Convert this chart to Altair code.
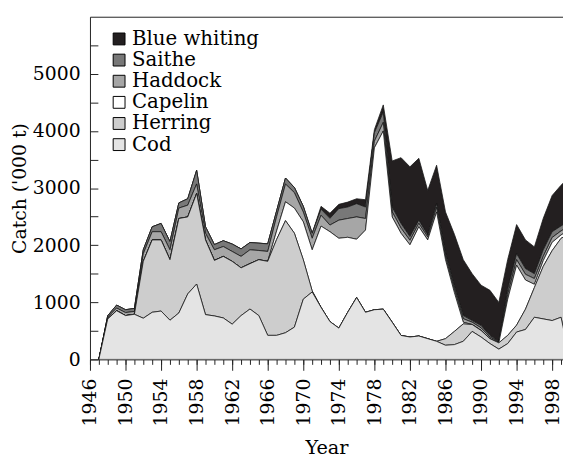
import altair as alt
import pandas as pd

years = list(range(1947, 2001))

cod = [0, 709, 853, 767, 790, 721, 825, 847, 686, 813,
       1147, 1320, 784, 761, 726, 617, 767, 882, 767, 421,
       421, 467, 565, 1055, 1181, 911, 662, 548, 825, 1084,
       825, 870, 880, 652, 420, 392, 410, 363, 317, 248,
       259, 317, 490, 392, 277, 180, 277, 479, 524, 738,
       709, 680, 738, 0]

herring = [0, 0, 0, 0, 0, 996, 1267, 1245, 1060, 1654,
           1348, 1585, 1308, 973, 1078, 1100, 836, 795, 979, 1296,
           1679, 1963, 1645, 691, 19, 0, 0, 0, 0, 0,
           0, 0, 0, 0, 0, 0, 0, 0, 0, 115,
           231, 305, 121, 115, 86, 110, 144, 121, 356, 519,
           921, 1225, 1382, 2210]

capelin = [0, 0, 0, 0, 0, 0, 0, 0, 0, 0,
           0, 0, 0, 0, 0, 0, 0, 0, 0, 0,
           150, 330, 440, 663, 719, 1423, 1574, 1573, 1313, 1020,
           1440, 2835, 3120, 1843, 1788, 1614, 1913, 1729, 2265, 1383,
           680, 30, 0, 0, 0, 0, 634, 1050, 510, 58,
           100, 145, 59, 60]

haddock = [0, 31, 47, 53, 50, 133, 144, 144, 173, 183,
           205, 167, 116, 185, 173, 173, 201, 242, 161, 173,
           250, 310, 270, 171, 202, 190, 116, 317, 329, 391,
           202, 116, 150, 90, 90, 80, 60, 50, 80, 60,
           60, 60, 40, 45, 30, 10, 85, 96, 100, 100,
           74, 85, 71, 70]

saithe = [0, 26, 51, 50, 53, 69, 86, 145, 144, 90,
          113, 238, 114, 91, 101, 130, 131, 127, 128, 133,
          100, 106, 90, 100, 87, 106, 118, 202, 201, 232,
          201, 149, 180, 83, 83, 64, 55, 37, 65, 56,
          55, 55, 29, 41, 28, 8, 88, 104, 100, 85,
          115, 101, 87, 90]

blue_whiting = [0, 0, 0, 0, 0, 0, 0, 0, 0, 0,
                0, 0, 0, 0, 0, 0, 0, 0, 0, 0,
                0, 0, 0, 0, 0, 50, 90, 75, 86, 86,
                128, 53, 126, 807, 1151, 1222, 1083, 778, 673, 720,
                905, 979, 820, 707, 789, 690, 522, 510, 502, 470,
                551, 634, 713, 770]

species = ["Blue whiting", "Saithe", "Haddock", "Capelin", "Herring", "Cod"]
colors = ["#231f20", "#787878", "#a6a6a6", "#ffffff", "#cdcdcd", "#e4e4e4"]
series = [blue_whiting, saithe, haddock, capelin, herring, cod]

x_ticks_major = list(range(1946, 2000, 4))
x_ticks_minor = list(range(1946, 2000))
y_labels = [0, 1000, 2000, 3000, 4000, 5000]
y_ticks = list(range(0, 5501, 500))

rows = []
for rank_from_top, (name, vals) in enumerate(zip(species, series)):
    for yr, v in zip(years, vals):
        rows.append({"year": yr, "catch": v, "species": name,
                     "rank": len(species) - 1 - rank_from_top})
df = pd.DataFrame(rows)

FONT = "DejaVu Serif"
W, H = 479, 347
xscale = alt.Scale(domain=[1946, 1999.22], nice=False, zero=False)
yscale = alt.Scale(domain=[0, 6000], nice=False)
AX = "#222222"

areas = alt.Chart(df).mark_area(
    stroke="#1a1a1a", strokeWidth=0.8, opacity=1, clip=True
).encode(
    x=alt.X("year:Q", scale=xscale,
            axis=alt.Axis(orient="bottom", values=x_ticks_minor, labels=False,
                          tickSize=5, title=None, grid=False, domainColor=AX,
                          tickColor=AX)),
    y=alt.Y("catch:Q", stack="zero", scale=yscale,
            axis=alt.Axis(orient="left", values=y_labels, ticks=False,
                          labelPadding=10, format="d", labelFont=FONT,
                          labelFontSize=19, labelColor="black",
                          title="Catch ('000 t)", titleFont=FONT,
                          titleFontSize=19, titleFontWeight="normal",
                          titleColor="black", titlePadding=3, grid=False,
                          domainColor=AX)),
    color=alt.Color("species:N", scale=alt.Scale(domain=species, range=colors),
                    legend=alt.Legend(orient="none", legendX=19.5, legendY=12.5,
                                      title=None, labelFont=FONT, labelFontSize=20,
                                      labelColor="black", symbolType="square",
                                      symbolSize=144, symbolStrokeColor="black",
                                      symbolStrokeWidth=1, symbolOpacity=1,
                                      labelOffset=3, rowPadding=1.4, padding=0)),
    order=alt.Order("rank:Q", sort="ascending"),
)

guides = alt.Chart(df).mark_point(opacity=0).encode(
    x=alt.X("year:Q", scale=xscale,
            axis=alt.Axis(orient="bottom", values=x_ticks_major, tickSize=11,
                          labelAngle=-90, labelPadding=8, format="d",
                          labelFont=FONT, labelFontSize=19, labelColor="black",
                          title="Year", titleFont=FONT, titleFontSize=19.5,
                          titleFontWeight="normal", titleColor="black",
                          titlePadding=13, domain=False, grid=False,
                          tickColor=AX)),
    y=alt.Y("catch:Q", scale=yscale, stack=None,
            axis=alt.Axis(orient="right", offset=-W, values=y_ticks, labels=False,
                          domain=False, title=None, grid=False, tickColor=AX,
                          tickSize=8)),
)

top = alt.Chart(df).mark_point(opacity=0).encode(
    x=alt.X("year:Q", scale=xscale,
            axis=alt.Axis(orient="top", labels=False, ticks=False, title=None,
                          grid=False, domainColor=AX)),
)

chart = alt.layer(areas, guides, top).resolve_scale(
    x="independent", y="independent"
).properties(
    width=W, height=H,
    padding={"left": 83, "top": 6, "right": 0, "bottom": 98},
    autosize=alt.AutoSizeParams(type="none"),
).configure_view(stroke=None)

chart.save("out.html", embed_options={"renderer": "svg", "actions": False})
